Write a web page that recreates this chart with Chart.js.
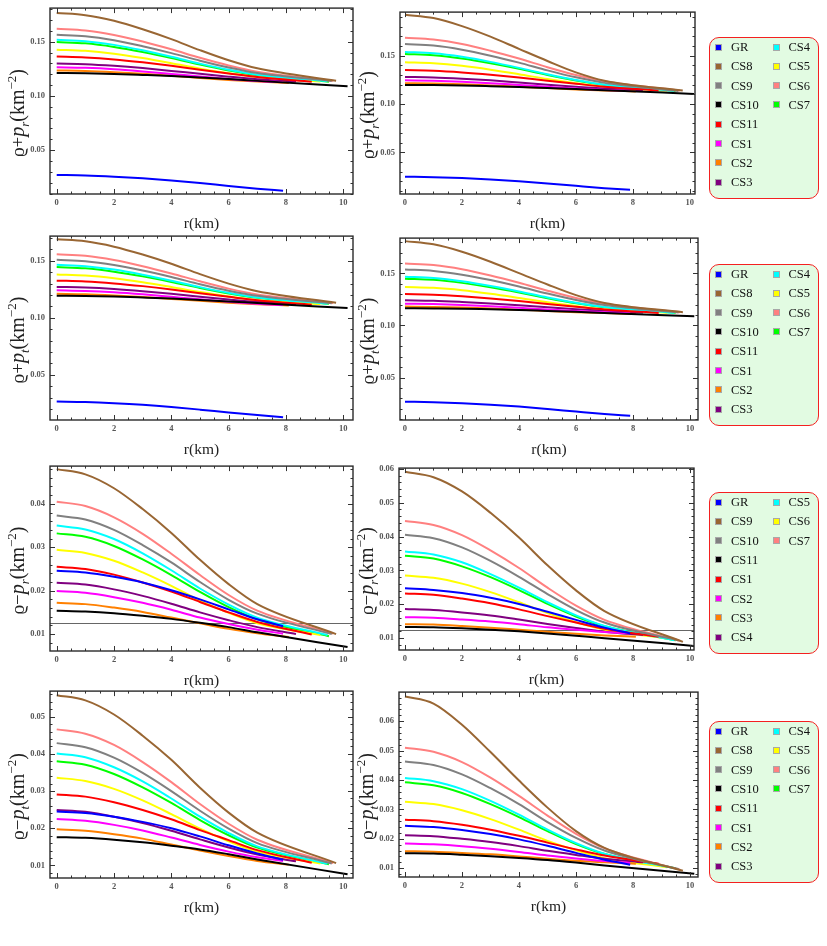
<!DOCTYPE html>
<html lang="en">
<head>
<meta charset="UTF-8" />
<title>Energy conditions</title>
<script src="https://cdn.jsdelivr.net/npm/chart.js"></script>
<style>
  body { margin: 0; background: #fff; }
  #page { position: relative; width: 827px; height: 946px; overflow: hidden; font-family: "Liberation Serif", "Times New Roman", serif; }
  #page canvas { position: absolute; }
  .legend { position: absolute; left: 709px; width: 110px; height: 162px; box-sizing: border-box;
            border: 1.5px solid #f42020; border-radius: 10px; background: #e2fbe2; }
  .item { position: absolute; font-size: 12.5px; line-height: 14px; color: #111; white-space: nowrap; }
  .item i { position: absolute; left: -16px; top: 3.5px; width: 5px; height: 5px; border: 1px solid #a8a8a8; }
</style>
</head>
<body>
<div id="page"></div>

<script>
// series order used in every panel
const seriesNames  = ['GR', 'CS8', 'CS9', 'CS10', 'CS11', 'CS1', 'CS2', 'CS3', 'CS4', 'CS5', 'CS6', 'CS7'];
const seriesColors = ['#0000ff', '#996633', '#808080', '#000000', '#ff0000', '#ff00ff',
                      '#ff8000', '#800080', '#00ffff', '#ffff00', '#ff8080', '#00ff00'];
// row 3 legend is labelled differently in the figure
const legendRow3 = ['GR', 'CS9', 'CS10', 'CS11', 'CS1', 'CS2', 'CS3', 'CS4', 'CS5', 'CS6', 'CS7'];

// radius samples (km); the last sample of every series is its surface radius
const rPoints = [0, 1, 2, 3, 4, 5, 6, 7];
const rEnd    = [7.9, 9.75, 9.6, 10.15, 8.9, 7.9, 8.1, 8.35, 9.45, 9.2, 9.65, 9.5];
const xTicks  = [0, 2, 4, 6, 8, 10];

// rho + p_r
const sumRadial1 = [
  [0.0272, 0.0267, 0.0256, 0.0241, 0.0221, 0.0197, 0.0170, 0.0145, 0.0126],
  [0.1765, 0.1745, 0.1693, 0.1615, 0.1524, 0.1422, 0.1329, 0.1255, 0.1141],
  [0.1564, 0.1550, 0.1513, 0.1458, 0.1395, 0.1325, 0.1262, 0.1211, 0.1138],
  [0.1211, 0.1209, 0.1203, 0.1194, 0.1184, 0.1171, 0.1156, 0.1139, 0.1090],
  [0.1363, 0.1355, 0.1337, 0.1310, 0.1278, 0.1242, 0.1208, 0.1175, 0.1132],
  [0.1265, 0.1259, 0.1246, 0.1226, 0.1203, 0.1179, 0.1157, 0.1138, 0.1126],
  [0.1235, 0.1230, 0.1219, 0.1204, 0.1186, 0.1166, 0.1148, 0.1133, 0.1120],
  [0.1299, 0.1293, 0.1278, 0.1257, 0.1231, 0.1204, 0.1178, 0.1155, 0.1133],
  [0.1518, 0.1505, 0.1471, 0.1421, 0.1362, 0.1298, 0.1241, 0.1196, 0.1135],
  [0.1427, 0.1416, 0.1389, 0.1349, 0.1302, 0.1252, 0.1209, 0.1174, 0.1133],
  [0.1619, 0.1603, 0.1562, 0.1502, 0.1430, 0.1352, 0.1281, 0.1224, 0.1140],
  [0.1497, 0.1485, 0.1452, 0.1405, 0.1350, 0.1289, 0.1235, 0.1191, 0.1132]
];
const sumRadial2 = [
  [0.0249, 0.0244, 0.0234, 0.0220, 0.0202, 0.0179, 0.0154, 0.0130, 0.0113],
  [0.1922, 0.1887, 0.1804, 0.1695, 0.1569, 0.1444, 0.1326, 0.1240, 0.1138],
  [0.1619, 0.1603, 0.1561, 0.1499, 0.1427, 0.1347, 0.1275, 0.1218, 0.1135],
  [0.1197, 0.1195, 0.1191, 0.1184, 0.1176, 0.1166, 0.1154, 0.1142, 0.1104],
  [0.1350, 0.1343, 0.1326, 0.1302, 0.1273, 0.1240, 0.1209, 0.1179, 0.1140],
  [0.1245, 0.1240, 0.1230, 0.1215, 0.1196, 0.1177, 0.1159, 0.1145, 0.1135],
  [0.1214, 0.1211, 0.1203, 0.1192, 0.1178, 0.1164, 0.1150, 0.1139, 0.1130],
  [0.1279, 0.1274, 0.1261, 0.1244, 0.1222, 0.1199, 0.1178, 0.1159, 0.1140],
  [0.1537, 0.1523, 0.1487, 0.1435, 0.1373, 0.1306, 0.1247, 0.1199, 0.1135],
  [0.1432, 0.1421, 0.1394, 0.1354, 0.1307, 0.1257, 0.1214, 0.1179, 0.1138],
  [0.1684, 0.1666, 0.1620, 0.1550, 0.1469, 0.1380, 0.1299, 0.1234, 0.1138],
  [0.1517, 0.1504, 0.1470, 0.1421, 0.1363, 0.1300, 0.1243, 0.1197, 0.1135]
];
// rho + p_t
const sumTangential1 = [
  [0.0265, 0.0260, 0.0250, 0.0236, 0.0217, 0.0194, 0.0169, 0.0146, 0.0128],
  [0.1689, 0.1671, 0.1624, 0.1555, 0.1474, 0.1383, 0.1300, 0.1233, 0.1132],
  [0.1509, 0.1496, 0.1463, 0.1415, 0.1358, 0.1295, 0.1238, 0.1193, 0.1128],
  [0.1193, 0.1191, 0.1186, 0.1178, 0.1169, 0.1157, 0.1144, 0.1129, 0.1085],
  [0.1326, 0.1319, 0.1302, 0.1278, 0.1249, 0.1216, 0.1184, 0.1154, 0.1115],
  [0.1242, 0.1236, 0.1224, 0.1206, 0.1184, 0.1162, 0.1141, 0.1123, 0.1112],
  [0.1210, 0.1206, 0.1196, 0.1183, 0.1166, 0.1149, 0.1133, 0.1119, 0.1108],
  [0.1271, 0.1265, 0.1252, 0.1233, 0.1210, 0.1184, 0.1161, 0.1140, 0.1120],
  [0.1465, 0.1453, 0.1423, 0.1378, 0.1326, 0.1269, 0.1219, 0.1178, 0.1124],
  [0.1381, 0.1371, 0.1347, 0.1312, 0.1270, 0.1226, 0.1187, 0.1156, 0.1120],
  [0.1558, 0.1544, 0.1507, 0.1453, 0.1389, 0.1320, 0.1256, 0.1205, 0.1130],
  [0.1445, 0.1434, 0.1405, 0.1364, 0.1315, 0.1262, 0.1214, 0.1175, 0.1123]
];
const sumTangential2 = [
  [0.0268, 0.0263, 0.0253, 0.0239, 0.0221, 0.0198, 0.0173, 0.0149, 0.0132],
  [0.1810, 0.1779, 0.1708, 0.1612, 0.1503, 0.1393, 0.1291, 0.1216, 0.1127],
  [0.1538, 0.1524, 0.1488, 0.1436, 0.1374, 0.1306, 0.1245, 0.1196, 0.1125],
  [0.1166, 0.1164, 0.1161, 0.1155, 0.1149, 0.1140, 0.1131, 0.1120, 0.1089],
  [0.1301, 0.1295, 0.1280, 0.1260, 0.1235, 0.1207, 0.1180, 0.1154, 0.1120],
  [0.1209, 0.1205, 0.1196, 0.1184, 0.1169, 0.1153, 0.1138, 0.1126, 0.1118],
  [0.1181, 0.1178, 0.1172, 0.1162, 0.1151, 0.1139, 0.1128, 0.1119, 0.1111],
  [0.1241, 0.1237, 0.1226, 0.1212, 0.1194, 0.1174, 0.1156, 0.1141, 0.1125],
  [0.1468, 0.1456, 0.1425, 0.1380, 0.1327, 0.1269, 0.1218, 0.1177, 0.1122],
  [0.1370, 0.1361, 0.1338, 0.1304, 0.1264, 0.1222, 0.1186, 0.1156, 0.1122],
  [0.1595, 0.1580, 0.1540, 0.1480, 0.1410, 0.1334, 0.1264, 0.1208, 0.1126],
  [0.1449, 0.1438, 0.1409, 0.1366, 0.1316, 0.1262, 0.1213, 0.1174, 0.1121]
];
// rho - p_r
const diffRadial1 = [
  [0.0246, 0.0242, 0.0232, 0.0219, 0.0201, 0.0180, 0.0157, 0.0134, 0.0118],
  [0.0480, 0.0468, 0.0436, 0.0388, 0.0333, 0.0271, 0.0215, 0.0169, 0.0100],
  [0.0373, 0.0364, 0.0340, 0.0305, 0.0265, 0.0220, 0.0179, 0.0147, 0.0100],
  [0.0154, 0.0152, 0.0148, 0.0142, 0.0135, 0.0126, 0.0116, 0.0104, 0.0070],
  [0.0255, 0.0250, 0.0237, 0.0219, 0.0198, 0.0174, 0.0150, 0.0128, 0.0099],
  [0.0199, 0.0195, 0.0185, 0.0172, 0.0156, 0.0138, 0.0123, 0.0110, 0.0101],
  [0.0172, 0.0169, 0.0161, 0.0151, 0.0138, 0.0125, 0.0112, 0.0102, 0.0093],
  [0.0218, 0.0214, 0.0203, 0.0188, 0.0170, 0.0150, 0.0132, 0.0116, 0.0100],
  [0.0350, 0.0341, 0.0319, 0.0286, 0.0247, 0.0205, 0.0168, 0.0138, 0.0098],
  [0.0294, 0.0287, 0.0269, 0.0242, 0.0211, 0.0177, 0.0149, 0.0125, 0.0098],
  [0.0405, 0.0395, 0.0369, 0.0331, 0.0285, 0.0236, 0.0190, 0.0154, 0.0101],
  [0.0332, 0.0324, 0.0303, 0.0272, 0.0236, 0.0197, 0.0162, 0.0134, 0.0095]
];
const diffRadial2 = [
  [0.0247, 0.0242, 0.0233, 0.0219, 0.0201, 0.0178, 0.0154, 0.0131, 0.0114],
  [0.0591, 0.0575, 0.0533, 0.0470, 0.0397, 0.0315, 0.0241, 0.0180, 0.0089],
  [0.0405, 0.0395, 0.0368, 0.0328, 0.0281, 0.0230, 0.0183, 0.0146, 0.0093],
  [0.0133, 0.0132, 0.0129, 0.0125, 0.0120, 0.0114, 0.0107, 0.0100, 0.0077],
  [0.0232, 0.0228, 0.0217, 0.0203, 0.0185, 0.0165, 0.0146, 0.0128, 0.0104],
  [0.0162, 0.0160, 0.0155, 0.0149, 0.0141, 0.0132, 0.0125, 0.0118, 0.0114],
  [0.0141, 0.0140, 0.0136, 0.0131, 0.0125, 0.0119, 0.0113, 0.0108, 0.0104],
  [0.0186, 0.0183, 0.0176, 0.0167, 0.0155, 0.0142, 0.0130, 0.0119, 0.0109],
  [0.0356, 0.0347, 0.0324, 0.0289, 0.0249, 0.0206, 0.0167, 0.0136, 0.0094],
  [0.0285, 0.0278, 0.0261, 0.0236, 0.0206, 0.0174, 0.0147, 0.0125, 0.0099],
  [0.0446, 0.0434, 0.0404, 0.0359, 0.0307, 0.0249, 0.0196, 0.0154, 0.0092],
  [0.0343, 0.0335, 0.0312, 0.0280, 0.0242, 0.0201, 0.0164, 0.0135, 0.0094]
];
// rho - p_t
const diffTangential1 = [
  [0.0245, 0.0241, 0.0231, 0.0217, 0.0200, 0.0178, 0.0154, 0.0132, 0.0115],
  [0.0558, 0.0544, 0.0506, 0.0449, 0.0384, 0.0309, 0.0242, 0.0188, 0.0106],
  [0.0429, 0.0418, 0.0390, 0.0349, 0.0300, 0.0247, 0.0199, 0.0160, 0.0105],
  [0.0176, 0.0174, 0.0169, 0.0162, 0.0153, 0.0143, 0.0130, 0.0116, 0.0076],
  [0.0291, 0.0285, 0.0270, 0.0249, 0.0224, 0.0195, 0.0168, 0.0141, 0.0107],
  [0.0225, 0.0220, 0.0209, 0.0194, 0.0175, 0.0155, 0.0137, 0.0122, 0.0112],
  [0.0197, 0.0193, 0.0184, 0.0172, 0.0156, 0.0140, 0.0125, 0.0112, 0.0102],
  [0.0249, 0.0244, 0.0231, 0.0214, 0.0193, 0.0170, 0.0148, 0.0129, 0.0111],
  [0.0401, 0.0391, 0.0364, 0.0326, 0.0280, 0.0231, 0.0187, 0.0151, 0.0104],
  [0.0336, 0.0327, 0.0306, 0.0275, 0.0238, 0.0199, 0.0165, 0.0137, 0.0105],
  [0.0466, 0.0454, 0.0424, 0.0378, 0.0324, 0.0265, 0.0212, 0.0169, 0.0106],
  [0.0380, 0.0371, 0.0346, 0.0310, 0.0268, 0.0222, 0.0181, 0.0148, 0.0103]
];
const diffTangential2 = [
  [0.0244, 0.0240, 0.0230, 0.0216, 0.0198, 0.0176, 0.0152, 0.0129, 0.0112],
  [0.0684, 0.0660, 0.0588, 0.0495, 0.0398, 0.0306, 0.0226, 0.0169, 0.0091],
  [0.0463, 0.0451, 0.0419, 0.0372, 0.0318, 0.0257, 0.0203, 0.0160, 0.0097],
  [0.0151, 0.0150, 0.0146, 0.0141, 0.0135, 0.0128, 0.0119, 0.0109, 0.0081],
  [0.0265, 0.0260, 0.0248, 0.0231, 0.0210, 0.0187, 0.0164, 0.0143, 0.0115],
  [0.0184, 0.0181, 0.0175, 0.0166, 0.0155, 0.0143, 0.0133, 0.0124, 0.0118],
  [0.0158, 0.0156, 0.0152, 0.0147, 0.0140, 0.0132, 0.0125, 0.0120, 0.0115],
  [0.0212, 0.0209, 0.0200, 0.0189, 0.0175, 0.0159, 0.0145, 0.0132, 0.0120],
  [0.0407, 0.0396, 0.0369, 0.0329, 0.0282, 0.0231, 0.0185, 0.0149, 0.0100],
  [0.0326, 0.0318, 0.0297, 0.0267, 0.0231, 0.0193, 0.0161, 0.0134, 0.0103],
  [0.0510, 0.0496, 0.0461, 0.0408, 0.0346, 0.0279, 0.0217, 0.0168, 0.0095],
  [0.0392, 0.0382, 0.0356, 0.0318, 0.0274, 0.0226, 0.0182, 0.0148, 0.0100]
];

const yTicksSum = [0.05, 0.10, 0.15];
const refLines  = [null, null, null, null, 0.0126, 0.0125, null, null];

// panel layout: plot box in page pixels and axis ranges
const panels = [
  { data: sumRadial1,      sign: '+', sub: 'r', box: [50, 6, 353, 194],    x: [-0.234, 10.34], y: [0.0096, 0.181],  yt: yTicksSum, minor: 0.01 },
  { data: sumRadial2,      sign: '+', sub: 'r', box: [400, 10, 695, 194],  x: [-0.175, 10.18], y: [0.0070, 0.1949], yt: yTicksSum, minor: 0.01 },
  { data: sumTangential1,  sign: '+', sub: 't', box: [50, 234, 353, 420],  x: [-0.234, 10.34], y: [0.0103, 0.1717], yt: yTicksSum, minor: 0.01 },
  { data: sumTangential2,  sign: '+', sub: 't', box: [400, 236, 698, 420], x: [-0.175, 10.28], y: [0.0092, 0.1839], yt: yTicksSum, minor: 0.01 },
  { data: diffRadial1,     sign: '\u2212', sub: 'r', box: [50, 464, 353, 651],  x: [-0.234, 10.34], y: [0.0061, 0.0487], yt: [0.01, 0.02, 0.03, 0.04], minor: 0.002 },
  { data: diffRadial2,     sign: '\u2212', sub: 'r', box: [399, 466, 694, 650], x: [-0.21, 10.14],  y: [0.0065, 0.0602], yt: [0.01, 0.02, 0.03, 0.04, 0.05, 0.06], minor: 0.002 },
  { data: diffTangential1, sign: '\u2212', sub: 't', box: [50, 689, 353, 878],  x: [-0.234, 10.34], y: [0.0066, 0.0569], yt: [0.01, 0.02, 0.03, 0.04, 0.05], minor: 0.002 },
  { data: diffTangential2, sign: '\u2212', sub: 't', box: [399, 690, 698, 877], x: [-0.21, 10.28],  y: [0.0070, 0.0699], yt: [0.01, 0.02, 0.03, 0.04, 0.05, 0.06], minor: 0.002 }
];
const legendTops = [37, 264, 492, 721];

const SERIF = '"Liberation Serif", "Times New Roman", serif';

// frame with inward ticks on all sides, axis titles, reference line
const framePlugin = {
  id: 'frame',
  beforeDatasetsDraw(chart, args, opts) {
    if (opts.ref == null) return;
    const { ctx, chartArea: a, scales: { y } } = chart;
    const py = Math.round(y.getPixelForValue(opts.ref)) + 0.5;
    ctx.save();
    ctx.strokeStyle = '#666';
    ctx.lineWidth = 1;
    ctx.beginPath(); ctx.moveTo(a.left, py); ctx.lineTo(a.right, py); ctx.stroke();
    ctx.restore();
  },
  afterDatasetsDraw(chart, args, opts) {
    const { ctx, chartArea: a, scales: { x, y } } = chart;
    ctx.save();
    ctx.strokeStyle = '#333';
    ctx.lineWidth = 1;
    const tick = (px, len, vertical) => {
      ctx.beginPath();
      if (vertical) {
        ctx.moveTo(px, a.bottom); ctx.lineTo(px, a.bottom - len);
        ctx.moveTo(px, a.top);    ctx.lineTo(px, a.top + len);
      } else {
        ctx.moveTo(a.left, px);  ctx.lineTo(a.left + len, px);
        ctx.moveTo(a.right, px); ctx.lineTo(a.right - len, px);
      }
      ctx.stroke();
    };
    for (let k = 0; k <= 20; k++) {
      const px = Math.round(x.getPixelForValue(k * 0.5)) + 0.5;
      if (px < a.left || px > a.right) continue;
      tick(px, k % 4 === 0 ? 5 : 2.5, true);
    }
    for (let k = 0; k <= 40; k++) {
      const v = k * opts.minor;
      if (v < y.min || v > y.max) continue;
      const py = Math.round(y.getPixelForValue(v)) + 0.5;
      tick(py, k % 5 === 0 ? 5 : 2.5, false);
    }
    ctx.lineWidth = 1.4;
    ctx.strokeStyle = '#2a2a2a';
    ctx.strokeRect(a.left, a.top, a.width, a.height);

    // x title
    ctx.fillStyle = '#222';
    ctx.textBaseline = 'middle';
    ctx.textAlign = 'center';
    ctx.font = '15.5px ' + SERIF;
    ctx.fillText('r(km)', (a.left + a.right) / 2, a.bottom + 30);

    // y title: rho +/- p_sub (km^-2)
    const parts = [
      { t: '\u03f1', f: '19px ' + SERIF, dy: 0 },
      { t: opts.sign, f: '19px ' + SERIF, dy: 0 },
      { t: 'p', f: 'italic 20px ' + SERIF, dy: 0 },
      { t: opts.sub, f: 'italic 13px ' + SERIF, dy: 5 },
      { t: '(km', f: '20px ' + SERIF, dy: 0 },
      { t: '\u22122', f: '13px ' + SERIF, dy: -8 },
      { t: ')', f: '20px ' + SERIF, dy: 0 }
    ];
    let total = 0;
    parts.forEach(p => { ctx.font = p.f; p.w = ctx.measureText(p.t).width; total += p.w; });
    ctx.translate(a.left - 32, (a.top + a.bottom) / 2 + 12);
    ctx.rotate(-Math.PI / 2);
    ctx.textAlign = 'left';
    ctx.textBaseline = 'alphabetic';
    let cx = -total / 2;
    parts.forEach(p => {
      ctx.font = p.f;
      ctx.fillText(p.t, cx, 6 + p.dy);
      cx += p.w;
    });
    ctx.restore();
  }
};

const page = document.getElementById('page');
const tickFont = { family: SERIF, size: 8.5, weight: 'bold' };

panels.forEach((p, idx) => {
  const [l, t, r, b] = p.box;
  const cv = document.createElement('canvas');
  cv.width = r - l + 51;
  cv.height = b - t + 48;
  cv.style.left = (l - 45) + 'px';
  cv.style.top = (t - 8) + 'px';
  page.appendChild(cv);

  const datasets = p.data.map((vals, i) => ({
    label: seriesNames[i],
    data: rPoints.concat([rEnd[i]]).map((rv, k) => ({ x: rv, y: vals[k] })),
    borderColor: seriesColors[i],
    borderWidth: 2,
    pointRadius: 0,
    cubicInterpolationMode: 'monotone',
    fill: false
  }));

  new Chart(cv, {
    type: 'line',
    data: { datasets },
    options: {
      responsive: false,
      animation: false,
      layout: { padding: { left: 0, top: 8, right: 6, bottom: 0 } },
      plugins: {
        legend: { display: false },
        tooltip: { enabled: false },
        frame: { sign: p.sign, sub: p.sub, minor: p.minor, ref: refLines[idx] }
      },
      scales: {
        x: {
          type: 'linear', min: p.x[0], max: p.x[1],
          afterFit: s => { s.height = 40; },
          afterBuildTicks: s => { s.ticks = xTicks.map(v => ({ value: v })); },
          grid: { display: false, drawTicks: false },
          border: { display: false },
          ticks: { padding: 4, font: tickFont, color: '#555', autoSkip: false, maxRotation: 0,
                   callback: v => String(v) }
        },
        y: {
          type: 'linear', min: p.y[0], max: p.y[1],
          afterFit: s => { s.width = 45; },
          afterBuildTicks: s => { s.ticks = p.yt.map(v => ({ value: v })); },
          grid: { display: false, drawTicks: false },
          border: { display: false },
          ticks: { padding: 5, font: tickFont, color: '#555', autoSkip: false,
                   callback: v => v.toFixed(2) }
        }
      }
    },
    plugins: [framePlugin]
  });
});

// legends
legendTops.forEach((top, row) => {
  const box = document.createElement('div');
  box.className = 'legend';
  box.style.top = top + 'px';
  const labels = row === 2 ? legendRow3 : seriesNames;
  labels.forEach((name, i) => {
    const col = i < 8 ? 0 : 1;
    const line = col === 0 ? i : i - 8;
    const it = document.createElement('div');
    it.className = 'item';
    it.style.left = (col === 0 ? 21 : 78.5) + 'px';
    it.style.top = (2 + line * 19.3) + 'px';
    it.innerHTML = '<i style="background:' + seriesColors[i] + '"></i>' + name;
    box.appendChild(it);
  });
  page.appendChild(box);
});
</script>
</body>
</html>
